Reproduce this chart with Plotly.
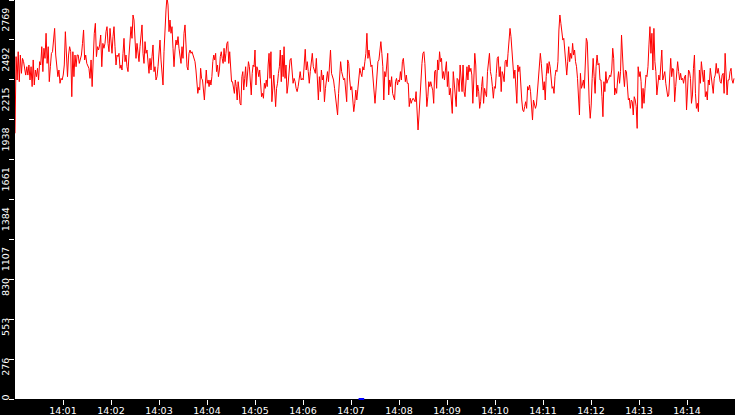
import pandas as pd
import plotly.graph_objects as go

# readings, one list per 112.5 s slice of the window (14:00:00 -> 14:15:00)
seg_1 = [1844, 2376, 2214, 2410, 2202, 2387, 2260, 2364, 2341, 2272, 2248, 2306, 2248, 2318, 2214, 2306,
         2168, 2353, 2179, 2283, 2237, 2295, 2214, 2341, 2318, 2445, 2272, 2434, 2364, 2538, 2329, 2445,
         2202, 2306, 2399, 2410, 2480, 2572, 2387, 2306, 2237, 2283, 2191, 2225, 2214, 2248, 2318, 2549,
         2376, 2237, 2387, 2445, 2410, 2098, 2410, 2237, 2387, 2306, 2387, 2387, 2329, 2353, 2387, 2468,
         2561, 2353, 2387, 2329, 2306, 2295, 2225, 2353, 2168, 2387, 2538, 2607, 2376, 2445, 2422, 2457,
         2526, 2306, 2468, 2434]
seg_2 = [2468, 2549, 2584, 2468, 2410, 2572, 2491, 2399, 2515, 2584, 2445, 2318, 2387, 2376, 2399, 2295,
         2318, 2283, 2399, 2503, 2341, 2387, 2306, 2272, 2387, 2480, 2584, 2503, 2665, 2630, 2491, 2364,
         2468, 2399, 2341, 2445, 2549, 2596, 2399, 2329, 2480, 2399, 2422, 2306, 2260, 2364, 2283, 2376,
         2457, 2272, 2306, 2214, 2237, 2306, 2445, 2491, 2353, 2272, 2179, 2410, 2619, 2700, 2790, 2734,
         2549, 2630, 2538, 2584, 2434, 2306, 2422, 2491, 2457, 2515, 2434, 2376, 2329, 2445, 2364, 2538,
         2596, 2457, 2306, 2283, 2399, 2422, 2399, 2410, 2387, 2364]
seg_3 = [2341, 2283, 2168, 2121, 2163, 2144, 2295, 2225, 2214, 2121, 2075, 2179, 2283, 2191, 2214, 2168,
         2214, 2179, 2237, 2341, 2387, 2353, 2399, 2272, 2318, 2237, 2283, 2376, 2410, 2364, 2329, 2434,
         2341, 2399, 2468, 2480, 2329, 2410, 2237, 2202, 2202, 2156, 2121, 2214, 2168, 2075, 2202, 2144,
         2052, 2040, 2237, 2272, 2144, 2225, 2306, 2168, 2237, 2341, 2306, 2214, 2110, 2260, 2318, 2306,
         2422, 2179, 2306, 2283, 2237, 2283, 2202, 2098, 2121, 2087, 2191, 2156, 2214, 2168, 2318, 2399,
         2225, 2410, 2063, 2168, 2248, 2144, 2029, 2156, 2191, 2260, 2306, 2422, 2202, 2387, 2237, 2445]
seg_4 = [2225, 2318, 2121, 2179, 2272, 2353, 2364, 2283, 2191, 2225, 2202, 2156, 2133, 2168, 2225, 2272,
         2214, 2225, 2214, 2329, 2427, 2283, 2341, 2272, 2191, 2272, 2341, 2399, 2306, 2283, 2260, 2364,
         2225, 2075, 2237, 2133, 2283, 2214, 2248, 2063, 2156, 2214, 2272, 2202, 2341, 2422, 2260, 2237,
         2214, 2156, 2098, 2017, 1971, 2121, 2202, 2341, 2272, 2248, 2214, 2225, 2133, 2063, 2353, 2329,
         2214, 2144, 2168, 2075, 1994, 2052, 2144, 2075, 2144, 2225, 2295, 2260, 2237, 2306, 2283, 2341,
         2399, 2538, 2364, 2422, 2376, 2306, 2318, 2214, 2087]
seg_5 = [2052, 2144, 2237, 2341, 2353, 2422, 2480, 2399, 2306, 2075, 2272, 2237, 2329, 2399, 2110, 2214,
         2168, 2237, 2121, 2098, 2075, 2202, 2225, 2179, 2214, 2202, 2272, 2214, 2341, 2364, 2272, 2202,
         2248, 2191, 2191, 2029, 2087, 2052, 2075, 2087, 2075, 2063, 2133, 2029, 1867, 1971, 2110, 2272,
         2329, 2399, 2410, 2329, 2168, 2029, 2098, 2202, 2168, 2202, 2168, 2144, 2052, 2272, 2283, 2156,
         2353, 2283, 2410, 2341, 2364, 2225, 2272, 2214, 2283, 2341, 2168, 2272, 2110, 2156, 2075, 1982,
         2272, 2144, 2110, 2029, 2225, 2214, 2133, 2318, 2237, 2133, 2318, 2133]
seg_6 = [2098, 2237, 2306, 2214, 2318, 2272, 2295, 2248, 2052, 2214, 2399, 2318, 2098, 2179, 2133, 2017,
         2063, 2168, 2237, 2052, 2156, 2121, 2098, 2272, 2364, 2399, 2272, 2237, 2168, 2087, 2168, 2156,
         2260, 2364, 2376, 2237, 2306, 2133, 2272, 2248, 2202, 2341, 2353, 2306, 2399, 2503, 2572, 2515,
         2399, 2329, 2225, 2283, 2156, 2052, 2318, 2272, 2306, 2121, 2075, 2006, 1994, 2029, 2063, 2017,
         2168, 2144, 2179, 2133, 2029, 1936, 2075, 2029, 2017, 2040, 2144, 2225, 2364, 2399, 2329, 2237,
         2144, 2202, 2075, 2237, 2329, 2260, 2341, 2306, 2191, 2156, 2168, 2121]
seg_7 = [2237, 2283, 2272, 2341, 2561, 2665, 2607, 2515, 2491, 2503, 2399, 2283, 2248, 2341, 2445, 2341,
         2399, 2364, 2468, 2387, 2422, 2341, 2306, 2225, 2075, 1971, 2260, 2156, 2179, 2214, 2156, 2434,
         2503, 2480, 2225, 2052, 1948, 2040, 2225, 2364, 2237, 2121, 2306, 2387, 2318, 2329, 2214, 2214,
         2098, 1959, 2202, 2133, 2272, 2191, 2214, 2225, 2248, 2237, 2283, 2434, 2364, 2110, 2156, 2121,
         2214, 2272, 2191, 2272, 2526, 2353, 2248, 2168, 2283, 2272, 2156, 2075, 2087, 2017, 2075, 2063,
         1971, 2098, 2075, 2029, 1878, 2306, 2237, 2272, 2202, 2017, 2156, 2052]
seg_8 = [2156, 2248, 2237, 2306, 2457, 2584, 2399, 2538, 2283, 2572, 2341, 2272, 2110, 2202, 2248, 2214,
         2306, 2422, 2214, 2237, 2272, 2191, 2121, 2098, 2110, 2248, 2364, 2237, 2295, 2283, 2063, 2168,
         2237, 2341, 2272, 2214, 2260, 2214, 2225, 2191, 2237, 2248, 2006, 2110, 2283, 2272, 2225, 2052,
         2110, 2295, 2387, 2121, 2017, 2052, 1994, 2283, 2191, 2341, 2248, 2202, 2283, 2098, 2133, 2075,
         2214, 2179, 2295, 2248, 2179, 2121, 2225, 2248, 2329, 2260, 2295, 2248, 2202, 2191, 2248, 2260,
         2121, 2399, 2248, 2110, 2214, 2214, 2272, 2295, 2214, 2191, 2225]

y_max = 2769
y_tick_text = ["0", "276", "553", "830", "1107", "1384", "1661", "1938", "2215", "2492", "2769"]
x_tick_text = ["14:01", "14:02", "14:03", "14:04", "14:05", "14:06", "14:07",
               "14:08", "14:09", "14:10", "14:11", "14:12", "14:13", "14:14"]
marker_time = ["2024-01-01 14:07:13"]
marker_value = [0]

start = pd.Timestamp("2024-01-01 14:00:00")
end = pd.Timestamp("2024-01-01 14:15:00")
span = pd.Timedelta(seconds=112.5)

times, values = [], []
for k, seg in enumerate([seg_1, seg_2, seg_3, seg_4, seg_5, seg_6, seg_7, seg_8]):
    for i, v in enumerate(seg):
        times.append(start + span * k + span * i / len(seg))
        values.append(v)

fig = go.Figure()
fig.add_trace(go.Scatter(x=times, y=values, mode="lines",
                         line=dict(color="#ff0000", width=1), hoverinfo="skip"))
fig.add_trace(go.Scatter(x=pd.to_datetime(marker_time), y=marker_value, mode="markers",
                         marker=dict(symbol="line-ew", size=4, line=dict(color="#0000ff", width=2)),
                         cliponaxis=False, hoverinfo="skip"))

# pad labels so the rotated text hangs a little below the tick instead of centring on it
fig_space = "\u2007"
y_labels = [t + fig_space * max(0, 4 * len(t) - 9) for t in y_tick_text]

fig.update_layout(
    width=735, height=415,
    margin=dict(l=15, r=0, t=0, b=16, pad=0),
    paper_bgcolor="black", plot_bgcolor="white",
    showlegend=False,
    font=dict(family="DejaVu Sans", size=9.5, color="white"),
)
fig.update_xaxes(
    range=[start, end], showgrid=False, zeroline=False, showline=False,
    tickvals=[start + pd.Timedelta(minutes=m + 1) for m in range(len(x_tick_text))],
    ticktext=x_tick_text, ticks="outside", ticklen=5, tickwidth=1, tickcolor="white",
    ticklabelstandoff=-2, ticklabeloverflow="allow", automargin=False,
)
fig.update_yaxes(
    range=[0, y_max], showgrid=False, zeroline=False, showline=False,
    tickvals=[y_max * k / 10 for k in range(len(y_tick_text))],
    ticktext=y_labels, tickangle=-90, ticks="outside", ticklen=5, tickwidth=1, tickcolor="white",
    ticklabelstandoff=-4, ticklabeloverflow="allow", automargin=False,
)

fig.write_html("out.html", config={"displayModeBar": False},
               post_script="document.body.style.margin='0';")
